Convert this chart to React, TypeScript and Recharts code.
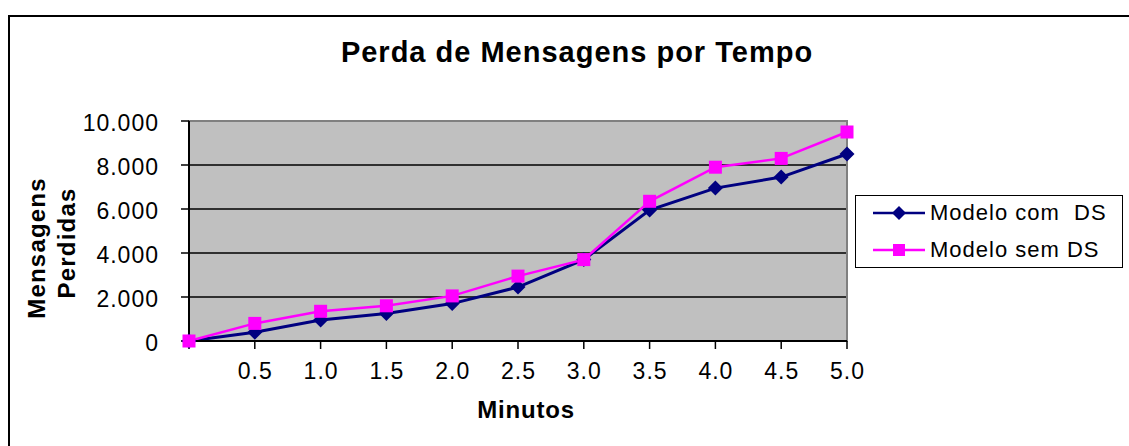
import React from "react";
import { LineChart, Line, XAxis, YAxis, CartesianGrid, Legend, ReferenceArea, Label } from "recharts";

const FONT = '"Liberation Sans", Arial, Helvetica, sans-serif';

const minutes = ["", "0.5", "1.0", "1.5", "2.0", "2.5", "3.0", "3.5", "4.0", "4.5", "5.0"];
const modeloComDS = [0, 400, 950, 1250, 1700, 2450, 3700, 5950, 6950, 7450, 8500];
const modeloSemDS = [0, 800, 1350, 1600, 2050, 2950, 3700, 6350, 7900, 8300, 9500];
const yTicks = [0, 2000, 4000, 6000, 8000, 10000];
const nameCom = "Modelo com  DS";
const nameSem = "Modelo sem DS";
const title = "Perda de Mensagens por Tempo";
const yLabelLines = ["Mensagens", "Perdidas"];
const xLabel = "Minutos";

const NAVY = "#000080";
const MAGENTA = "#FF00FF";

const data = minutes.map((m, i) => ({ minuto: m, com: modeloComDS[i], sem: modeloSemDS[i] }));

const fmt = (v: number) => String(v).replace(/\B(?=(\d{3})+(?!\d))/g, ".");

const DiamondDot = (props: any) => {
  const { cx, cy, index } = props;
  if (cx == null || cy == null) return <g key={`d${index}`} />;
  return (
    <polygon
      key={`d${index}`}
      points={`${cx},${cy - 7.5} ${cx + 7.5},${cy} ${cx},${cy + 7.5} ${cx - 7.5},${cy}`}
      fill={NAVY}
    />
  );
};

const SquareDot = (props: any) => {
  const { cx, cy, index } = props;
  if (cx == null || cy == null) return <g key={`s${index}`} />;
  return <rect key={`s${index}`} x={cx - 6.5} y={cy - 6.5} width={13} height={13} fill={MAGENTA} />;
};

const YTick = (props: any) => {
  const { x, y, payload } = props;
  return (
    <text x={x} y={y + 2} dy="0.355em" textAnchor="end" fontSize={23} fontFamily={FONT} letterSpacing={1} fill="#000">
      {fmt(payload.value)}
    </text>
  );
};

const XTick = (props: any) => {
  const { x, y, payload } = props;
  return (
    <text x={x + 0.5} y={y} dy="0.71em" textAnchor="middle" fontSize={23} fontFamily={FONT} letterSpacing={1} fill="#000">
      {payload.value}
    </text>
  );
};

const YLabel = () => (
  <g>
    <text
      transform="translate(45,248) rotate(-90)"
      textAnchor="middle"
      fontSize={24}
      fontWeight="bold"
      fontFamily={FONT}
      letterSpacing={1.2}
      fill="#000"
    >
      {yLabelLines[0]}
    </text>
    <text
      transform="translate(75,243) rotate(-90)"
      textAnchor="middle"
      fontSize={24}
      fontWeight="bold"
      fontFamily={FONT}
      letterSpacing={1.2}
      fill="#000"
    >
      {yLabelLines[1]}
    </text>
  </g>
);

const XLabel = () => (
  <text x={526} y={418} textAnchor="middle" fontSize={24} fontWeight="bold" fontFamily={FONT} letterSpacing={0.8} fill="#000">
    {xLabel}
  </text>
);

const LegendMarker = ({ kind, color }: { kind: string; color: string }) => (
  <svg width={52} height={16} style={{ display: "block" }}>
    <line x1={0} y1={8} x2={52} y2={8} stroke={color} strokeWidth={2.5} />
    {kind === "com" ? (
      <polygon points="26,1 33,8 26,15 19,8" fill={color} />
    ) : (
      <rect x={20} y={2} width={12} height={12} fill={color} />
    )}
  </svg>
);

const renderLegend = (props: any) => {
  const payload = props.payload || [];
  return (
    <div style={{ position: "relative", width: "100%", height: "100%" }}>
      {payload.map((p: any, i: number) => (
        <div
          key={p.dataKey}
          style={{
            position: "absolute",
            left: 17,
            top: i === 0 ? 4 : 41,
            height: 26,
            display: "flex",
            alignItems: "center",
          }}
        >
          <LegendMarker kind={p.dataKey} color={p.color} />
          <span
            style={{
              marginLeft: 5,
              fontSize: 22,
              fontFamily: FONT,
              letterSpacing: 1,
              whiteSpace: "pre",
              color: "#000",
            }}
          >
            {p.value}
          </span>
        </div>
      ))}
    </div>
  );
};

export default function App() {
  return (
    <div
      style={{
        position: "fixed",
        left: 0,
        top: 0,
        width: 1129,
        height: 446,
        overflow: "hidden",
        background: "#fff",
      }}
    >
      <div
        style={{
          position: "absolute",
          left: 8,
          top: 15,
          width: 1300,
          height: 600,
          borderTop: "2px solid #000",
          borderLeft: "2px solid #000",
          boxSizing: "border-box",
        }}
      />
      <div
        style={{
          position: "absolute",
          left: 0,
          top: 38,
          width: 1154,
          textAlign: "center",
          fontFamily: FONT,
          fontWeight: "bold",
          fontSize: 29,
          lineHeight: "29px",
          letterSpacing: 1,
          color: "#000",
        }}
      >
        {title}
      </div>
      <div style={{ position: "absolute", left: 0, top: 0 }}>
        <LineChart width={1129} height={446} data={data} margin={{ top: 121, right: 282, bottom: 0, left: 0 }}>
          <CartesianGrid vertical={false} stroke="#000" strokeWidth={1.5} fill="#C0C0C0" fillOpacity={1} />
          <ReferenceArea y1={0} y2={10000} fill="none" stroke="#808080" strokeWidth={2} />
          <XAxis
            dataKey="minuto"
            height={105}
            interval={0}
            tickSize={8}
            tickMargin={14}
            tick={<XTick />}
            axisLine={{ stroke: "#000", strokeWidth: 2 }}
            tickLine={{ stroke: "#000", strokeWidth: 1.5 }}
          >
            <Label content={<XLabel />} />
          </XAxis>
          <YAxis
            width={189}
            domain={[0, 10000]}
            ticks={yTicks}
            interval={0}
            tickSize={8}
            tickMargin={22}
            tick={<YTick />}
            axisLine={{ stroke: "#000", strokeWidth: 2 }}
            tickLine={{ stroke: "#000", strokeWidth: 1.5 }}
          >
            <Label content={<YLabel />} />
          </YAxis>
          <Legend
            layout="horizontal"
            verticalAlign="middle"
            align="center"
            content={renderLegend}
            wrapperStyle={{
              left: 855,
              top: 195,
              width: 268,
              height: 73,
              border: "1px solid #000",
              background: "#fff",
              boxSizing: "border-box",
            }}
          />
          <Line
            type="linear"
            dataKey="com"
            name={nameCom}
            stroke={NAVY}
            strokeWidth={3}
            dot={DiamondDot}
            activeDot={false}
            isAnimationActive={false}
          />
          <Line
            type="linear"
            dataKey="sem"
            name={nameSem}
            stroke={MAGENTA}
            strokeWidth={2.5}
            dot={SquareDot}
            activeDot={false}
            isAnimationActive={false}
          />
        </LineChart>
      </div>
    </div>
  );
}
